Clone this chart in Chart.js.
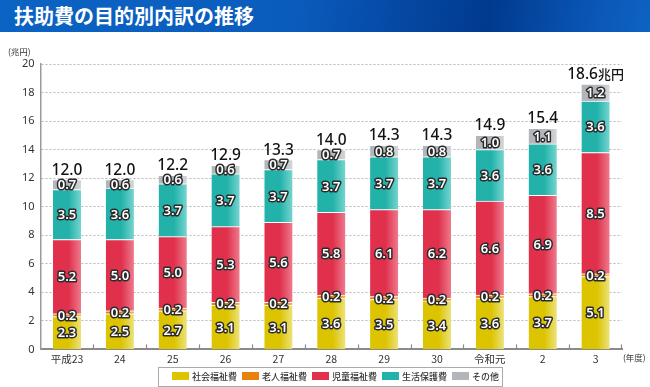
<!DOCTYPE html>
<html>
<head>
<meta charset="utf-8">
<script src="https://cdn.jsdelivr.net/npm/chart.js@4.4.0/dist/chart.umd.min.js"></script>
<style>
body { margin: 0; width: 650px; height: 387px; overflow: hidden; background: #fff; font-family: "Noto Sans CJK JP", sans-serif; }
#banner {
    position: absolute; left: 0; top: 0; width: 650px; height: 32px; z-index: 2;
    background: linear-gradient(100deg, #0b63c4 0%, #0a5cbc 45%, #064aa6 60%, #003a8e 75%, #0a55b4 90%, #0d63c2 100%);
}
#banner h1 { margin: 0; position: absolute; left: 14px; top: 2px; color: #fff; font-size: 20px; line-height: 28px; font-weight: bold; letter-spacing: 0; }
#wrap { position: absolute; left: 0; top: 0; width: 650px; height: 387px; }
</style>
</head>
<body>
<div id="banner"><h1>扶助費の目的別内訳の推移</h1></div>
<div id="wrap"><canvas id="chart"></canvas></div>
<script>
const years = ['平成23', '24', '25', '26', '27', '28', '29', '30', '令和元', '2', '3'];
const social = [2.3, 2.5, 2.7, 3.1, 3.1, 3.6, 3.5, 3.4, 3.6, 3.7, 5.1];     // 社会福祉費
const elderly = [0.2, 0.2, 0.2, 0.2, 0.2, 0.2, 0.2, 0.2, 0.2, 0.2, 0.2];   // 老人福祉費
const child = [5.2, 5.0, 5.0, 5.3, 5.6, 5.8, 6.1, 6.2, 6.6, 6.9, 8.5];     // 児童福祉費
const welfare = [3.5, 3.6, 3.7, 3.7, 3.7, 3.7, 3.7, 3.7, 3.6, 3.6, 3.6];   // 生活保護費
const other = [0.7, 0.6, 0.6, 0.6, 0.7, 0.7, 0.8, 0.8, 1.0, 1.1, 1.2];     // その他
const totals = [12.0, 12.0, 12.2, 12.9, 13.3, 14.0, 14.3, 14.3, 14.9, 15.4, 18.6];
const yTicks = [0, 2, 4, 6, 8, 10, 12, 14, 16, 18, 20];

// bar fill: flat colour with a lighter strip on the right
const barFill = (base, light) => (c) => {
    const chart = c.chart;
    if (!chart.chartArea || c.dataIndex === undefined) return base;
    const x = chart.scales.x.getPixelForValue(c.dataIndex);
    const g = chart.ctx.createLinearGradient(x - 14, 0, x + 14, 0);
    g.addColorStop(0, base);
    g.addColorStop(0.55, base);
    g.addColorStop(1, light);
    return g;
};

const series = [
    { label: '社会福祉費', data: social, color: '#dcc400', light: '#ece27a' },
    { label: '老人福祉費', data: elderly, color: '#e8820c', light: '#f2b060' },
    { label: '児童福祉費', data: child, color: '#e0304c', light: '#ee7a8c' },
    { label: '生活保護費', data: welfare, color: '#22b2aa', light: '#76d4cf' },
    { label: 'その他', data: other, color: '#b2b6ba', light: '#d4d7d9' }
];

const labelsPlugin = {
    id: 'labels',
    afterDatasetsDraw(chart) {
        const ctx = chart.ctx;
        ctx.save();
        ctx.textAlign = 'center';
        ctx.textBaseline = 'middle';
        ctx.lineJoin = 'round';
        ctx.font = '600 13px "Noto Sans"';
        chart.data.datasets.forEach((ds, di) => {
            chart.getDatasetMeta(di).data.forEach((bar, i) => {
                const t = ds.data[i].toFixed(1);
                const y = (bar.y + bar.base) / 2 + 1;
                ctx.lineWidth = 3;
                ctx.strokeStyle = '#2b2b2b';
                ctx.strokeText(t, bar.x, y);
                ctx.fillStyle = '#fff';
                ctx.fillText(t, bar.x, y);
            });
        });
        // totals above each bar
        const top = chart.getDatasetMeta(chart.data.datasets.length - 1);
        ctx.fillStyle = '#111';
        ctx.textBaseline = 'alphabetic';
        top.data.forEach((bar, i) => {
            const last = i === totals.length - 1;
            const t = totals[i].toFixed(1);
            ctx.font = '500 15.5px "Noto Sans"';
            if (last) {
                const w1 = ctx.measureText(t).width;
                ctx.font = '500 13px "Noto Sans CJK JP"';
                const w2 = ctx.measureText('兆円').width;
                const x0 = bar.x - (w1 + w2) / 2;
                ctx.textAlign = 'left';
                ctx.font = '500 15.5px "Noto Sans"';
                ctx.fillText(t, x0, bar.y - 5);
                ctx.font = '500 13px "Noto Sans CJK JP"';
                ctx.fillText('兆円', x0 + w1, bar.y - 5);
                ctx.textAlign = 'center';
            } else {
                ctx.fillText(t, bar.x, bar.y - 5);
            }
        });
        ctx.restore();
    },
    afterDraw(chart) {
        const ctx = chart.ctx;
        const area = chart.chartArea;
        const x = chart.scales.x;
        ctx.save();
        // small ticks between categories
        ctx.strokeStyle = '#8a8a8a';
        ctx.lineWidth = 1.2;
        for (let i = 1; i <= years.length; i++) {
            const px = i < years.length ? Math.round((x.getPixelForValue(i - 1) + x.getPixelForValue(i)) / 2) + 0.5 : area.right - 0.5;
            ctx.beginPath();
            ctx.moveTo(px, area.bottom);
            ctx.lineTo(px, area.bottom - 5);
            ctx.stroke();
        }
        // unit labels
        ctx.fillStyle = '#333';
        ctx.font = '8.5px "Noto Sans CJK JP"';
        ctx.textBaseline = 'middle';
        ctx.textAlign = 'left';
        ctx.fillText('(兆円)', 8, area.top - 12);
        ctx.fillText('(年度)', area.right + 1, 358);
        // legend
        ctx.strokeStyle = '#aaa';
        ctx.lineWidth = 1;
        ctx.strokeRect(158.5, 367.5, 344, 19);
        ctx.font = '500 9px "Noto Sans CJK JP"';
        series.forEach((s, i) => {
            const bx = 172 + i * 70;
            ctx.fillStyle = s.color;
            ctx.fillRect(bx, 372, 17, 8);
            ctx.fillStyle = '#333';
            ctx.fillText(s.label, bx + 20, 376.5);
        });
        ctx.restore();
    }
};

new Chart(document.getElementById('chart'), {
    type: 'bar',
    data: {
        labels: years,
        datasets: series.map(s => ({
            label: s.label,
            data: s.data,
            backgroundColor: barFill(s.color, s.light),
            borderColor: '#fff',
            borderWidth: { top: 1, bottom: 0, left: 0, right: 0 },
            borderSkipped: false,
            barThickness: 28
        }))
    },
    options: {
        responsive: true,
        maintainAspectRatio: false,
        animation: false,
        layout: { padding: { left: 16, right: 28, top: 64, bottom: 19 } },
        plugins: {
            legend: { display: false },
            tooltip: { enabled: false }
        },
        scales: {
            x: {
                stacked: true,
                grid: { display: false, drawTicks: false },
                border: { display: true, color: '#8a8a8a', width: 2 },
                ticks: { color: '#333', font: { size: 10.5, family: '"Noto Sans CJK JP"' }, padding: 3 }
            },
            y: {
                stacked: true,
                min: 0,
                max: 20,
                afterBuildTicks: (axis) => { axis.ticks = yTicks.map(v => ({ value: v })); },
                grid: { color: '#b8b8b8', lineWidth: 1, drawTicks: false },
                border: { display: true, color: '#9a9a9a', width: 1.5, dash: [2, 2] },
                ticks: { color: '#333', font: { size: 11, family: '"Noto Sans"' }, padding: 6 }
            }
        }
    },
    plugins: [labelsPlugin]
});
</script>
</body>
</html>
